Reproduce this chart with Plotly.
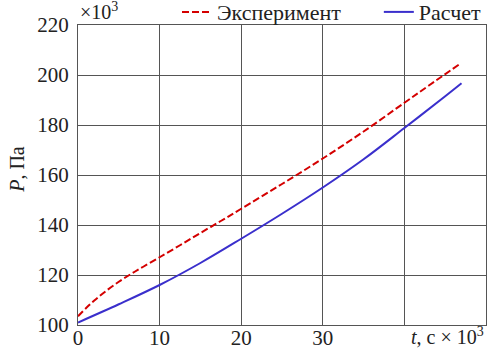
import plotly.graph_objects as go

# Data (t in 10^3 s, P in 10^3 Pa)
t_exp = [0, 1, 2, 3, 4, 5, 6, 7, 8, 10, 12.5, 15, 17.5, 20, 25, 30, 35, 40, 43, 46.7]
p_exp = [103.5, 106.8, 109.8, 112.5, 115, 117.3, 119.4, 121.4, 123.3, 127.1, 131.9, 136.8,
         141.6, 146.5, 156.4, 166.6, 177.4, 188.9, 195.8, 204.2]
t_calc = [0, 5, 10, 15, 20, 25, 30, 35, 40, 45, 47]
p_calc = [101, 108.3, 116, 124.8, 134.5, 144.5, 155, 166.3, 178.8, 191.5, 196.7]

x_ticks = [0, 10, 20, 30, 40]
x_ticktext = ["0", "10", "20", "30", ""]
y_ticks = [100, 120, 140, 160, 180, 200, 220]

FF = "'Liberation Serif', 'DejaVu Serif', serif"
INK = "#222"

fig = go.Figure()
fig.add_trace(go.Scatter(x=t_exp, y=p_exp, mode="lines",
                         name="Эксперимент\u00a0\u00a0\u00a0\u00a0\u00a0\u00a0",
                         line=dict(color="#d40000", width=2, dash="7px,3px", shape="spline")))
fig.add_trace(go.Scatter(x=t_calc, y=p_calc, mode="lines", name="Расчет",
                         line=dict(color="#3a2fcc", width=2, shape="spline")))

fig.update_layout(
    width=493, height=349,
    margin=dict(l=78, r=7, t=25, b=24, autoexpand=False),
    paper_bgcolor="white", plot_bgcolor="white",
    font=dict(family=FF, size=20, color=INK),
    showlegend=True,
    legend=dict(orientation="h", x=1.0, xanchor="right", y=1.043, yanchor="middle",
                font=dict(family=FF, size=22, color=INK), bgcolor="rgba(0,0,0,0)",
                borderwidth=0, tracegroupgap=0, itemwidth=30),
    xaxis=dict(range=[0, 50], tickvals=x_ticks, ticktext=x_ticktext,
               showgrid=True, gridcolor="#555", gridwidth=1,
               showline=True, linecolor="#555", linewidth=1, mirror=True,
               zeroline=False, ticks="", tickfont=dict(family=FF, size=21, color=INK),
               automargin=False, ticklabelstandoff=-6),
    yaxis=dict(range=[100, 220], tickvals=y_ticks,
               showgrid=True, gridcolor="#555", gridwidth=1,
               showline=True, linecolor="#555", linewidth=1, mirror=True,
               zeroline=False, ticks="", tickfont=dict(family=FF, size=21, color=INK),
               automargin=False, ticklabelstandoff=4),
    annotations=[
        dict(text="×10<sup>3</sup>", xref="paper", yref="paper", x=0, y=1,
             xanchor="left", yanchor="bottom", showarrow=False,
             font=dict(family=FF, size=20, color=INK)),
        dict(text="<i>t</i>, с × 10<sup>3</sup>", xref="paper", yref="paper", x=1, y=0,
             xanchor="right", yanchor="top", yshift=3, showarrow=False,
             font=dict(family=FF, size=20, color=INK)),
        dict(text="<i>P</i>, Па", xref="paper", yref="paper", x=-0.15, y=0.52,
             xanchor="center", yanchor="middle", textangle=-90, showarrow=False,
             font=dict(family=FF, size=20, color=INK)),
    ],
)

fig.write_html("out.html", config={"displayModeBar": False},
               post_script="document.body.style.margin='0';document.body.style.overflow='hidden';")
